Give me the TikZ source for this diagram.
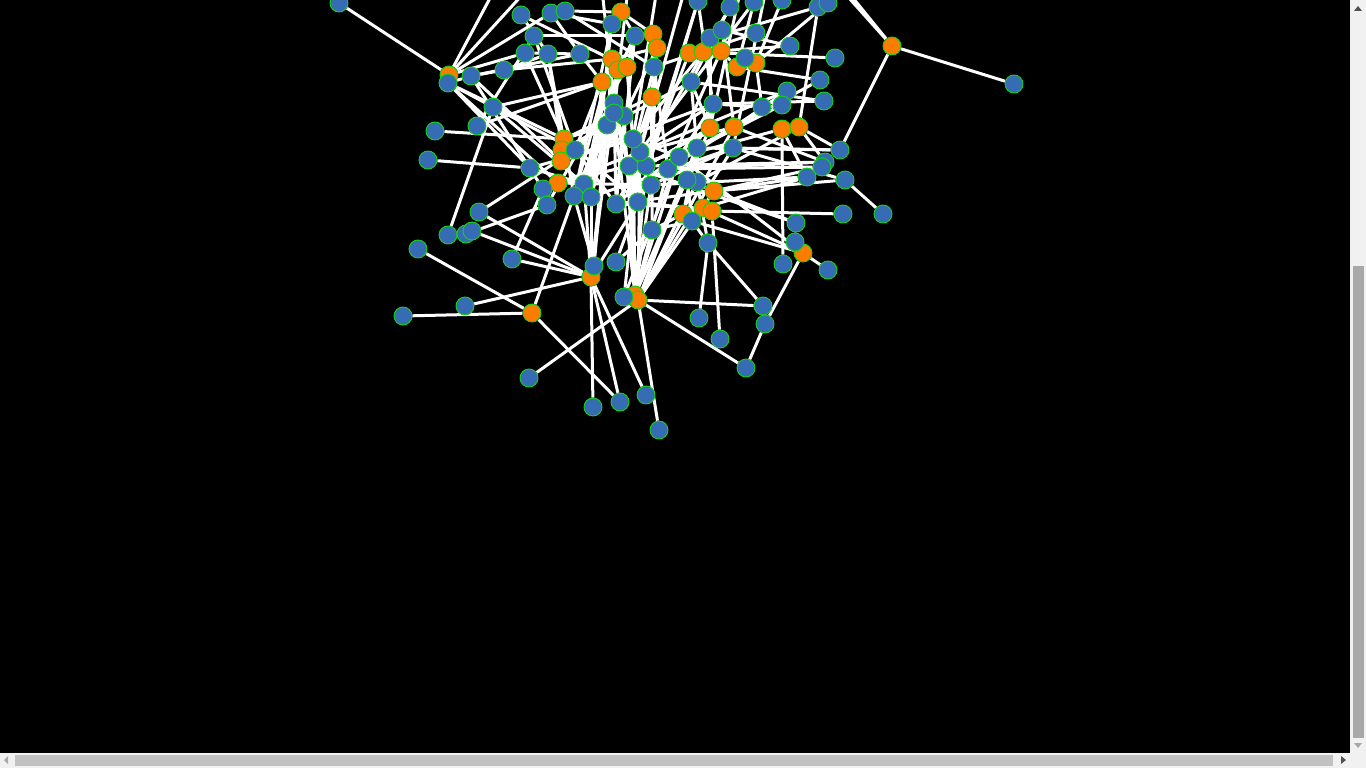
\documentclass[tikz,border=0pt]{standalone}
\usepackage{tikz}
\usetikzlibrary{positioning}
\definecolor{nodeblue}{RGB}{54,108,180}
\definecolor{nodeorange}{RGB}{250,125,0}
\definecolor{rimgreen}{RGB}{20,210,20}
\definecolor{trackgray}{RGB}{241,241,241}
\definecolor{thumbgray}{RGB}{168,168,168}
\definecolor{hthumbgray}{RGB}{193,193,193}
\definecolor{arrowgray}{RGB}{80,80,80}
\pgfdeclarelayer{backdrop}
\pgfdeclarelayer{links}
\pgfsetlayers{backdrop,links,main}
\tikzset{
    bnode/.style={draw=rimgreen,fill=nodeblue,circle,minimum size=18pt,inner sep=0pt,line width=0.9pt},
    onode/.style={draw=rimgreen,fill=nodeorange,circle,minimum size=18pt,inner sep=0pt,line width=0.9pt},
    link/.style={white,line width=3pt}
}

\begin{document}
\begin{tikzpicture}[x=1pt,y=-1pt]
    \useasboundingbox (0,0) rectangle (1366,768);
    \begin{pgfonlayer}{backdrop}
        \fill[black] (0,0) rectangle (1366,768);
    \end{pgfonlayer}

    \begin{scope}
        \clip (0,0) rectangle (1350,753);

        % off-screen ends
        \coordinate (t1) at (505,-30);
        \coordinate (t2) at (545,-30);
        \coordinate (t3) at (815,-40);
        \coordinate (t4) at (822,-40);
        \coordinate (t5) at (600,-30);
        \coordinate (t6) at (660,-30);
        \coordinate (t7) at (690,-30);
        \coordinate (t8) at (745,-30);
        \coordinate (t9) at (630,-30);
        \coordinate (t10) at (770,-30);

        % orange nodes
        \foreach \n/\x/\y in {o1/449/75, o2/564/139, o3/562/150, o4/561/161, o5/558/183,
            o6/591/277, o7/532/313, o8/635/295, o9/638/300, o10/803/253, o11/683/214,
            o12/703/208, o13/712/211, o14/714/191, o15/710/128, o16/734/127, o17/782/129,
            o18/799/127, o19/737/67, o20/756/63, o21/689/53, o22/703/52, o23/721/51,
            o24/652/97, o25/602/82, o26/612/59, o27/618/70, o28/627/67, o29/653/34,
            o30/657/48, o31/621/12, o32/892/46}
            \node[onode] (\n) at (\x,\y) {};

        % blue nodes
        \foreach \n/\x/\y in {b1/339/3, b2/448/83, b3/471/76, b4/504/70, b5/521/15,
            b6/551/13, b7/565/11, b8/534/36, b9/525/53, b10/548/54, b11/580/54,
            b12/493/107, b13/477/126, b14/435/131, b15/428/160, b16/575/150, b17/530/168,
            b18/543/189, b19/547/205, b20/584/184, b21/574/196, b22/591/197, b23/616/204,
            b24/638/202, b25/479/212, b26/448/235, b27/466/234, b28/418/249, b29/512/259,
            b30/594/266, b31/616/262, b32/465/306, b33/403/316, b34/624/297, b35/529/378,
            b36/593/407, b37/620/402, b38/646/395, b39/659/430, b40/699/318, b41/720/339,
            b42/746/368, b43/763/306, b44/765/324, b45/708/243, b46/783/264, b47/795/242,
            b48/828/270, b49/796/223, b50/843/214, b51/883/214, b52/652/230, b53/692/221,
            b54/697/182, b55/687/180, b56/651/185, b57/668/169, b58/679/157, b59/697/148,
            b60/733/148, b61/629/166, b62/646/166, b63/640/152, b64/633/139, b65/607/125,
            b66/614/103, b67/624/116, b68/635/36, b69/612/24, b70/654/67, b71/691/82,
            b72/710/38, b73/722/30, b74/698/1, b75/730/7, b76/754/2, b77/782/0,
            b78/756/33, b79/790/46, b80/835/58, b81/820/80, b82/824/101, b83/787/91,
            b84/782/105, b85/762/107, b86/713/104, b87/840/150, b88/825/162, b89/807/177,
            b90/845/180, b91/818/7, b92/828/3, b93/1014/84, b94/472/231, b95/745/58,
            b96/822/167, b97/614/113}
            \node[bnode] (\n) at (\x,\y) {};

        % edges
        \begin{pgfonlayer}{links}
        \foreach \a/\b in {b1/o1, o1/t1, o1/t2, o1/b6, o1/b9, b2/b3, b3/b4, b3/b11,
            b2/o2, b2/b17, b2/b12, b14/o2, b15/b17, b17/b20, b13/b8, b13/o25, b12/o25,
            b26/b12, b25/b16, b12/b16, b4/o26, b9/b11, b8/b68, b5/b10, b5/o28, b6/b11,
            b6/b69, b7/o31, b7/b70, b10/o3, b11/o25, b4/b10, b3/b18, b2/o5, b3/o4,
            b12/b20, b8/b16, b9/o2, b10/b21,
            o6/b36, o6/b37, o6/b38, o7/b37, o9/b39, b35/o9, o9/b43, o9/b42, o8/b64,
            o8/b61, o8/b57, o8/b58, o8/b59, o8/b56, o8/o15, o9/o14, o9/b54, o9/b60,
            o8/b62, o6/b66, o6/b22, o6/b24, b34/b63, b30/b65, b30/b21, b31/b24, b31/b52,
            b28/o7, b33/o7, b32/o6, b29/o6, b94/o6, b25/o6, b27/b19, o7/b21, b29/b18,
            o8/b67, o9/b63, o9/b86, o8/b97, b34/b58, o9/o16, o6/b65, o6/b20,
            b40/b45, b41/o13, b45/b43, b44/o10, b44/b42, b48/o10, o10/b53, o10/o12,
            o10/b58, b46/o17, b47/b49, b49/o14, b49/b61, b50/o13, b51/b90, b90/o14,
            b89/o11, b89/b56, b88/b62, b88/o16, b87/o32, b87/b60, o32/b93, o32/t3,
            o32/t4, b80/o22, b91/o18, b81/o19, b82/b71, b83/o16, b84/b59, b85/b86,
            b79/b73, b79/o21, b78/b70, b92/o20, b91/b72, b76/o19, b75/b71, b74/b86,
            b77/o20, o17/b58, o18/b54, o17/b89, o18/b87, o18/b88, b60/b90, b60/b22,
            b59/o11, o16/b57, o15/b62, o15/b23, o14/b23, o14/b55, o13/b24, o12/b23,
            o11/b52, b53/b55, b53/b52, b54/b59, b45/b54, b45/b53, b96/b57, b83/b63,
            b87/b59, b88/b57, b96/o14, b89/o14, b82/b86, b81/b58,
            o31/b69, o31/b68, o31/o29, o29/b70, o30/o26, o30/b67, b68/o27, b68/o28,
            o26/b65, o27/b66, o28/b64, o25/b65, o25/b16, o24/b61, o24/b63, o24/b56,
            b70/b61, b70/b57, b71/b59, b71/o15, b72/o15, b73/o16, b72/o21, o21/o22,
            o22/o23, o23/o19, o19/o20, o19/b95, o20/b85, b86/b63, b86/b58, o21/b62,
            o22/b64, o23/b57, b74/b62, b74/b24, b75/b23, b76/b61, b69/b22, b69/b21,
            o26/b20, o27/b22, o28/b24, o29/b52, o30/b56, b68/b23, t5/b66, t6/b64,
            t7/b63, t8/o15, t9/b97, t10/b60, b16/b66, o2/b65, o3/b67, o4/b64, o5/b61,
            o2/o24, o3/b71, o4/b86, o5/b56, b20/b67, b21/b66, b22/b65, b23/b67,
            b24/b66, b16/b23, o2/b24, b17/b64, b18/b63, b19/o28, b20/b97, b22/b97,
            b21/b65, b23/b66, b24/b65, b64/b58, b61/b59, b62/o15, b63/o16, b56/b60,
            b65/b21, b66/b20, o25/b22, o26/b21, o27/b20, b97/b24}
            \draw[link] (\a) -- (\b);
        \end{pgfonlayer}
    \end{scope}

    % scroll bars
    \fill[trackgray] (1350,0) rectangle (1366,753);
    \fill[thumbgray] (1353,266) rectangle (1364,738);
    \fill[arrowgray] (1354,11) -- (1362,11) -- (1358,6) -- cycle;
    \fill[thumbgray] (1354,743) -- (1362,743) -- (1358,748) -- cycle;
    \fill[trackgray] (0,753) rectangle (1366,768);
    \fill[hthumbgray] (15,755) rectangle (1333,766);
    \fill[thumbgray] (8,756) -- (8,764) -- (4,760) -- cycle;
    \fill[arrowgray] (1341,756) -- (1341,764) -- (1346,760) -- cycle;
\end{tikzpicture}
\end{document}
